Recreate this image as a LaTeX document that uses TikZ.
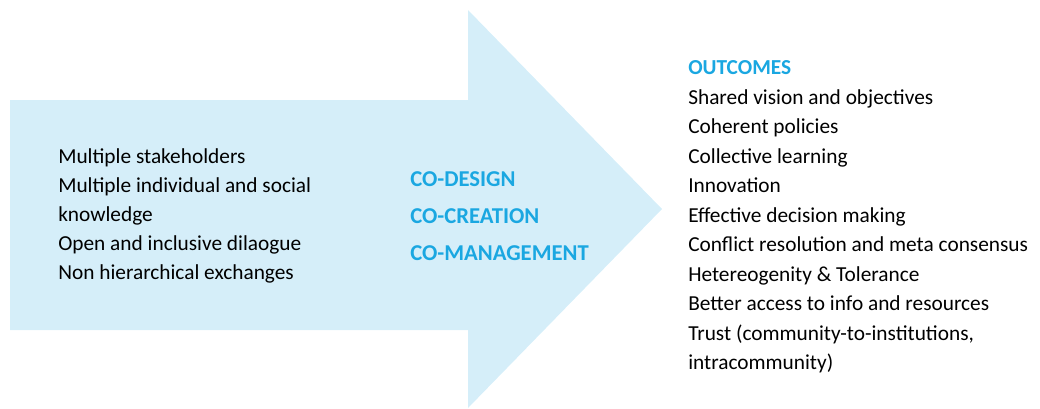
\documentclass[tikz,border=0pt]{standalone}
\usepackage{fontspec}
\setmainfont{Carlito}
\usetikzlibrary{positioning}
\definecolor{arrowblue}{HTML}{D5EEF9}
\definecolor{textblue}{HTML}{1AA7E1}
\begin{document}
\begin{tikzpicture}[x=0.75pt,y=-0.75pt,
  every node/.style={inner sep=0pt, align=left, anchor=west}]
\useasboundingbox (0,0) rectangle (1040,408);
\fill[arrowblue] (10,100) -- (468,100) -- (468,10) -- (662,209) -- (468,408) -- (468,330) -- (10,330) -- cycle;
\node [font=\fontsize{16}{21.9}\selectfont] (inputs) at (58,216) {Multiple stakeholders \\ Multiple individual and social \\ knowledge \\ Open and inclusive dilaogue \\ Non hierarchical exchanges};
\node [font=\fontsize{17}{27.75}\selectfont\bfseries, text=textblue] (codesign) at (410,216) {CO-DESIGN \\ CO-CREATION \\ CO-MANAGEMENT};
\node [font=\fontsize{16}{22.1}\selectfont] (outcomes) at (688,217) {\textcolor{textblue}{\bfseries OUTCOMES} \\ Shared vision and objectives \\ Coherent policies \\ Collective learning \\ Innovation \\ Effective decision making \\ Conflict resolution and meta consensus \\ Hetereogenity \& Tolerance \\ Better access to info and resources \\ Trust (community-to-institutions, \\ intracommunity)};
\end{tikzpicture}
\end{document}
